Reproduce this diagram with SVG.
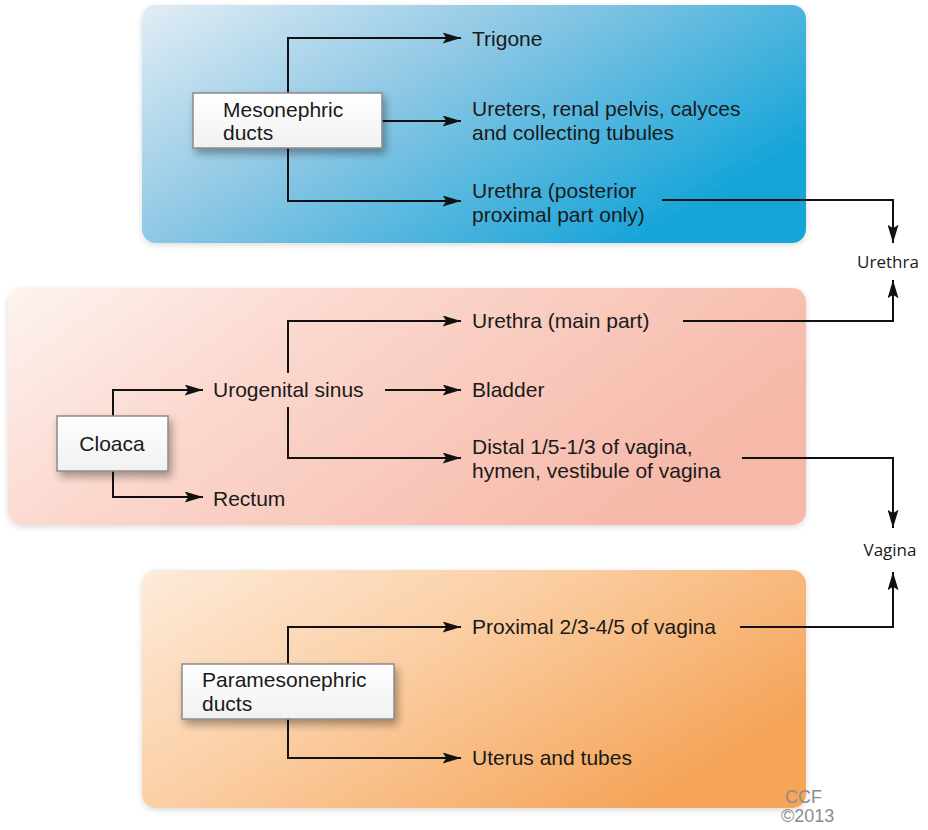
<svg xmlns="http://www.w3.org/2000/svg" width="928" height="830" viewBox="0 0 928 830">
<defs>
<linearGradient id="gBlue" x1="0" y1="0" x2="1" y2="0.6">
<stop offset="0" stop-color="#e2edf5"/>
<stop offset="0.45" stop-color="#8cc7e4"/>
<stop offset="1" stop-color="#14a4d8"/>
</linearGradient>
<linearGradient id="gPink" x1="0" y1="0" x2="1" y2="0.4">
<stop offset="0" stop-color="#fdf3f0"/>
<stop offset="0.4" stop-color="#fbd7cd"/>
<stop offset="1" stop-color="#f6b9a9"/>
</linearGradient>
<linearGradient id="gOrange" x1="0" y1="0" x2="1" y2="0.6">
<stop offset="0" stop-color="#fdebdb"/>
<stop offset="0.45" stop-color="#fbcfa5"/>
<stop offset="1" stop-color="#f5a458"/>
</linearGradient>
<linearGradient id="gBox" x1="0" y1="0" x2="0" y2="1">
<stop offset="0" stop-color="#ffffff"/>
<stop offset="1" stop-color="#f1f1f1"/>
</linearGradient>
<filter id="sh" x="-20%" y="-20%" width="150%" height="160%">
<feGaussianBlur in="SourceAlpha" stdDeviation="4"/>
<feOffset dx="3" dy="5" result="b"/>
<feComponentTransfer><feFuncA type="linear" slope="0.35"/></feComponentTransfer>
<feMerge><feMergeNode/><feMergeNode in="SourceGraphic"/></feMerge>
</filter>
<filter id="psh" x="-5%" y="-5%" width="110%" height="115%">
<feGaussianBlur in="SourceAlpha" stdDeviation="3"/>
<feOffset dx="0" dy="2" result="b"/>
<feComponentTransfer><feFuncA type="linear" slope="0.15"/></feComponentTransfer>
<feMerge><feMergeNode/><feMergeNode in="SourceGraphic"/></feMerge>
</filter>
<marker id="ah" viewBox="0 0 20 12" refX="20" refY="6" markerWidth="20" markerHeight="11" markerUnits="userSpaceOnUse" orient="auto">
<path d="M0,0 L20,6 L0,12 L4,6 Z" fill="#111"/>
</marker>
<style>
.t{font-family:"Liberation Sans",Arial,sans-serif;font-size:21px;fill:#1a1a1a}
.lbl{font-family:"Open Sans","DejaVu Sans",sans-serif;font-size:17px;fill:#1a1a1a}
.box{fill:url(#gBox);stroke:#8a8a8a;stroke-width:1.5}
.c{fill:none;stroke:#111;stroke-width:2}
.a{marker-end:url(#ah)}
.ccf{font-family:"Liberation Sans",Arial,sans-serif;font-size:18px;fill:#8c8c8c}
</style>
</defs>
<rect width="928" height="830" fill="#ffffff"/>

<g id="panels">
<rect x="142" y="5" width="664" height="238" rx="14" fill="url(#gBlue)" filter="url(#psh)"/>
<rect x="8" y="288" width="798" height="237" rx="14" fill="url(#gPink)" filter="url(#psh)"/>
<rect x="142" y="570" width="664" height="238" rx="14" fill="url(#gOrange)" filter="url(#psh)"/>
</g>

<g id="connectors">
<path class="c a" d="M288,93 V38 H461"/>
<path class="c a" d="M382,121 H461"/>
<path class="c a" d="M288,148 V201 H461"/>
<path class="c a" d="M662,200 H893 V243"/>
<path class="c a" d="M683,321 H893 V280"/>
<path class="c a" d="M288,373 V321 H461"/>
<path class="c a" d="M385,390 H461"/>
<path class="c a" d="M288,407 V458 H461"/>
<path class="c a" d="M113,416 V390 H203"/>
<path class="c a" d="M113,471 V497 H203"/>
<path class="c a" d="M742,458 H893 V528"/>
<path class="c a" d="M740,627 H893 V572"/>
<path class="c a" d="M288,664 V627 H461"/>
<path class="c a" d="M288,719 V758 H461"/>
</g>

<g id="mesonephric">
<rect class="box" x="193" y="93" width="189" height="55" filter="url(#sh)"/>
<text class="t" x="223" y="117">Mesonephric</text>
<text class="t" x="223" y="140">ducts</text>
</g>
<g id="trigone"><text class="t" x="472" y="46">Trigone</text></g>
<g id="ureters"><text class="t" x="472" y="116">Ureters, renal pelvis, calyces</text><text class="t" x="472" y="140">and collecting tubules</text></g>
<g id="urethra-post"><text class="t" x="472" y="198">Urethra (posterior</text><text class="t" x="472" y="222">proximal part only)</text></g>
<g id="urethra"><text class="lbl" x="888" y="268" text-anchor="middle">Urethra</text></g>

<g id="cloaca">
<rect class="box" x="57" y="416" width="111" height="55" filter="url(#sh)"/>
<text class="t" x="112" y="451" text-anchor="middle">Cloaca</text>
</g>
<g id="urogenital"><text class="t" x="213" y="397">Urogenital sinus</text></g>
<g id="rectum"><text class="t" x="213" y="506">Rectum</text></g>
<g id="urethra-main"><text class="t" x="472" y="328">Urethra (main part)</text></g>
<g id="bladder"><text class="t" x="472" y="397">Bladder</text></g>
<g id="distal"><text class="t" x="472" y="454">Distal 1/5-1/3 of vagina,</text><text class="t" x="472" y="478">hymen, vestibule of vagina</text></g>
<g id="vagina"><text class="lbl" x="890" y="556" text-anchor="middle">Vagina</text></g>

<g id="paramesonephric">
<rect class="box" x="182" y="664" width="212" height="55" filter="url(#sh)"/>
<text class="t" x="202" y="687">Paramesonephric</text>
<text class="t" x="202" y="711">ducts</text>
</g>
<g id="proximal"><text class="t" x="472" y="634">Proximal 2/3-4/5 of vagina</text></g>
<g id="uterus"><text class="t" x="472" y="765">Uterus and tubes</text></g>

<g id="credit">
<text class="ccf" x="785" y="803">CCF</text>
<text class="ccf" x="781" y="822">©2013</text>
</g>
</svg>
